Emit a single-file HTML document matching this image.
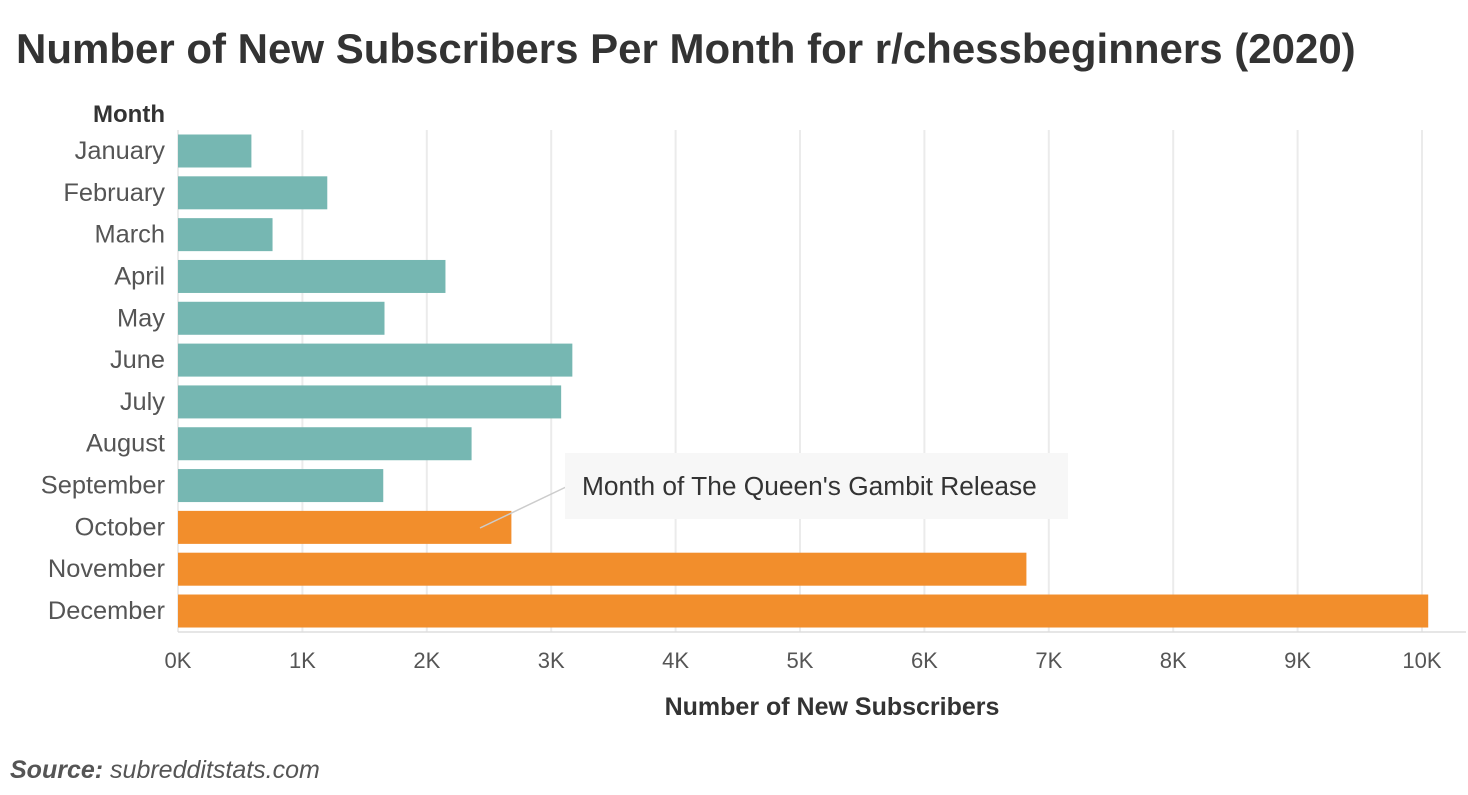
<!DOCTYPE html>
<html><head><meta charset="utf-8"><style>
body{margin:0;background:#fff;font-family:"Liberation Sans",Arial,sans-serif;}
svg text{font-family:"Liberation Sans",Arial,sans-serif;}
</style></head><body>
<svg id="chart" width="1468" height="790" xmlns="http://www.w3.org/2000/svg">
<text x="16" y="63" font-size="42" font-weight="bold" fill="#333">Number of New Subscribers Per Month for r/chessbeginners (2020)</text>
<text x="165" y="122" font-size="24" font-weight="bold" fill="#333" text-anchor="end">Month</text>
<g id="grid"></g>
<g id="bars"></g>
<g id="ylabels"></g>
<g id="xlabels"></g>
<line x1="178" y1="632" x2="1466" y2="632" stroke="#ddd" stroke-width="1.5"/>
<text x="832" y="715" font-size="25" font-weight="bold" fill="#333" text-anchor="middle">Number of New Subscribers</text>
<line x1="480" y1="528" x2="566" y2="487" stroke="#ccc" stroke-width="1.5"/>
<rect x="565" y="453" width="503" height="66" fill="#f7f7f7"/>
<text x="582" y="495" font-size="26.3" fill="#333">Month of The Queen's Gambit Release</text>
<text x="10" y="778" font-size="25" fill="#555" font-style="italic"><tspan font-weight="bold">Source:</tspan> subredditstats.com</text>
</svg>
<script>
const months=["January","February","March","April","May","June","July","August","September","October","November","December"];
const subscribers=[590,1200,760,2150,1660,3170,3080,2360,1650,2680,6820,10050];
const highlighted=[false,false,false,false,false,false,false,false,false,true,true,true];
const xTicks=[0,1000,2000,3000,4000,5000,6000,7000,8000,9000,10000];
const xTickLabels=["0K","1K","2K","3K","4K","5K","6K","7K","8K","9K","10K"];
const NS="http://www.w3.org/2000/svg";
const x=v=>178+v*0.1244;
const yC=i=>151+i*41.82;
const bh=33;
function mk(tag,attrs,parent){const e=document.createElementNS(NS,tag);for(const k in attrs)e.setAttribute(k,attrs[k]);document.getElementById(parent).appendChild(e);return e;}
xTicks.forEach((t,i)=>{
 const l=mk("line",{x1:x(t),x2:x(t),y1:130,y2:632,stroke:"#ebebeb","stroke-width":2},"grid");
 
 
 const tx=mk("text",{x:x(t),y:668,"font-size":22,fill:"#555","text-anchor":"middle"},"xlabels");
 tx.textContent=xTickLabels[i];
 
 
});
months.forEach((m,i)=>{
 const r=mk("rect",{x:x(0),y:yC(i)-bh/2,width:x(subscribers[i])-x(0),height:bh,fill:highlighted[i]?"#f28e2c":"#76b7b2"},"bars");
 
 
 const t=mk("text",{x:165,y:yC(i)+8,"font-size":25.4,fill:"#555","text-anchor":"end"},"ylabels");
 t.textContent=m;
 
 
});
</script>
</body></html>
